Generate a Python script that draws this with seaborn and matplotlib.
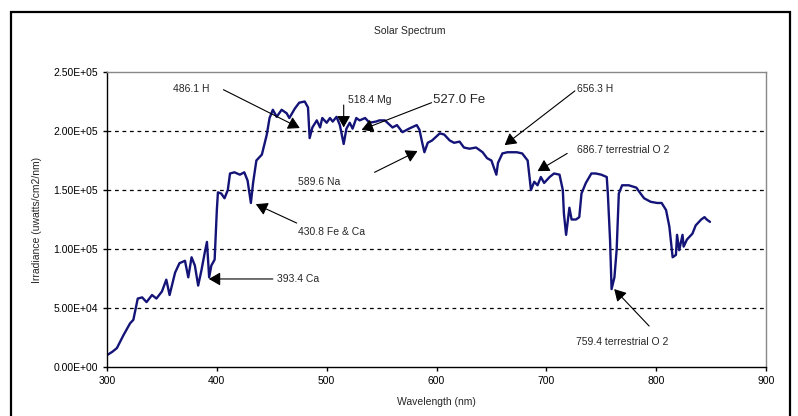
import matplotlib
matplotlib.use('Agg')
import matplotlib.pyplot as plt
import seaborn as sns
import pandas as pd
from matplotlib.patches import Rectangle
from matplotlib.ticker import FuncFormatter

# spectrum
wavelength = [300, 305, 309, 315, 321, 324, 328, 332, 336, 341, 345, 350, 354, 357, 362,
              366, 371, 374, 377, 380, 383, 386, 389, 391, 393, 395, 398, 400, 401, 404,
              407, 410, 412, 416, 421, 425, 428, 431, 433, 436, 439, 441, 445.5, 448, 451,
              454.5, 459, 463.6, 466, 471, 475, 480, 483, 484.5, 487, 491, 494, 496, 500, 503,
              505.5, 509, 512, 515.5, 518, 521, 523.6, 527, 530, 535, 539, 545, 548, 553, 560,
              564, 569, 575, 582, 584.5, 587, 589, 592, 596, 603, 607, 612, 616, 621, 625,
              630, 636, 642, 646, 650, 654.5, 656, 660, 664.5, 673, 678, 683, 686, 689, 692,
              695, 698, 703, 707, 712, 715, 716, 718, 721, 723, 727, 730, 732, 736, 741,
              745, 750, 755, 756, 758, 759.4, 762, 764, 766, 769, 775, 782, 785, 789, 795,
              801, 805, 809, 812, 815, 818, 819, 821, 824, 825, 828, 833, 836, 841, 844,
              846, 849]
irradiance = [10, 13, 16, 27, 37, 40, 58, 59, 55, 61, 58, 64, 74, 61, 80,
              88, 90, 76, 93, 86, 69, 82, 97, 106, 76, 86, 91, 133, 148, 147,
              143, 150, 164, 165, 163, 165, 158, 139, 156, 175, 178, 180, 197, 211, 218,
              212, 218, 215, 211, 219, 224, 225, 220, 194, 203, 209, 203, 211, 207, 211,
              208, 212, 205, 189, 202, 207, 202, 211, 209, 211, 207, 208, 209, 209, 203,
              205, 199, 202, 205, 201, 190, 182, 190, 192, 198, 197, 192, 190, 191, 186,
              185, 186, 182, 177, 175, 163, 173, 181, 182, 182, 181, 175, 150, 157, 154,
              161, 156, 161, 164, 163, 150, 130, 112, 135, 125, 125, 127, 147, 156, 164,
              164, 163, 161, 147, 108, 66, 76, 99, 147, 154, 154, 152, 148, 143, 140,
              139, 139, 133, 119, 93, 95, 112, 99, 112, 102, 108, 113, 120, 125, 127,
              125, 123]
irradiance = [v * 1000 for v in irradiance]

# annotations: label, text position, arrow tail, arrow tip
labels = ['486.1 H', '518.4 Mg', '527.0 Fe', '656.3 H', '686.7 terrestrial O 2',
          '589.6 Na', '430.8 Fe & Ca', '393.4 Ca', '759.4 terrestrial O 2']
text_x = [360, 519, 596.4, 728, 728, 473.6, 473.6, 454.5, 727]
text_y = [236000, 226000, 226000, 236000, 184000, 157000, 114000, 74600, 21000]
tail_x = [406, 515.5, 595.5, 726, 719, 543.6, 472.7, 451, 793.6]
tail_y = [235000, 222000, 224000, 234000, 181000, 165000, 122000, 74600, 34700]
tip_x = [475.5, 515.5, 531.8, 662, 692, 582.7, 435.5, 392.7, 761.8]
tip_y = [202500, 203000, 201000, 188000, 166000, 183000, 138000, 74600, 66000]
label_size = [7.5, 7.5, 9.5, 7.5, 7.5, 7.5, 7.5, 7.5, 7.5]

df = pd.DataFrame({'wavelength': wavelength, 'irradiance': irradiance})

sns.set_theme(style='white')
plt.rcParams['font.family'] = ['Liberation Sans', 'DejaVu Sans']

fig = plt.figure(figsize=(7.98, 4.16), dpi=100)
ax = fig.add_axes([107 / 798, 1 - 367 / 416, (766 - 107) / 798, (367 - 72) / 416])

sns.lineplot(data=df, x='wavelength', y='irradiance', ax=ax, color='#141478', linewidth=1.7)

ax.set_xlim(300, 900)
ax.set_ylim(0, 250000)
ax.set_xticks([300, 400, 500, 600, 700, 800, 900])
ax.set_yticks([0, 50000, 100000, 150000, 200000, 250000])
ax.yaxis.set_major_formatter(FuncFormatter(lambda v, p: f'{v:.2E}'))
ax.tick_params(labelsize=7.5, colors='black', length=3, width=1, direction='out')
ax.tick_params(axis='both', which='both', left=True, bottom=True)
for y in [50000, 100000, 150000, 200000]:
    ax.axhline(y, color='black', linestyle=(0, (3, 3)), linewidth=0.9, zorder=0)

for side in ['left', 'bottom']:
    ax.spines[side].set_color('black')
    ax.spines[side].set_linewidth(1.0)
for side in ['top', 'right']:
    ax.spines[side].set_color('#888888')
    ax.spines[side].set_linewidth(1.0)

ax.set_xlabel('Wavelength (nm)', fontsize=7.5, labelpad=8)
ax.set_ylabel('Irradiance (uwatts/cm2/nm)', fontsize=7.5, labelpad=8)
fig.text(410 / 798, 1 - 31 / 416, 'Solar Spectrum', ha='center', va='center', fontsize=7.5)

for i in range(len(labels)):
    ax.annotate('', xy=(tip_x[i], tip_y[i]), xytext=(tail_x[i], tail_y[i]),
                arrowprops=dict(arrowstyle='-|>,head_length=0.7,head_width=0.4',
                                color='black', lw=0.8, shrinkA=0, shrinkB=0,
                                mutation_scale=10))
    ax.text(text_x[i], text_y[i], labels[i], fontsize=label_size[i], ha='left', va='center')

fig.patches.append(Rectangle((11 / 798, -0.05), (790 - 11) / 798, 1 - 12 / 416 + 0.05,
                             transform=fig.transFigure, fill=False, edgecolor='black',
                             linewidth=1.6))

plt.savefig('out.png', dpi=100)
